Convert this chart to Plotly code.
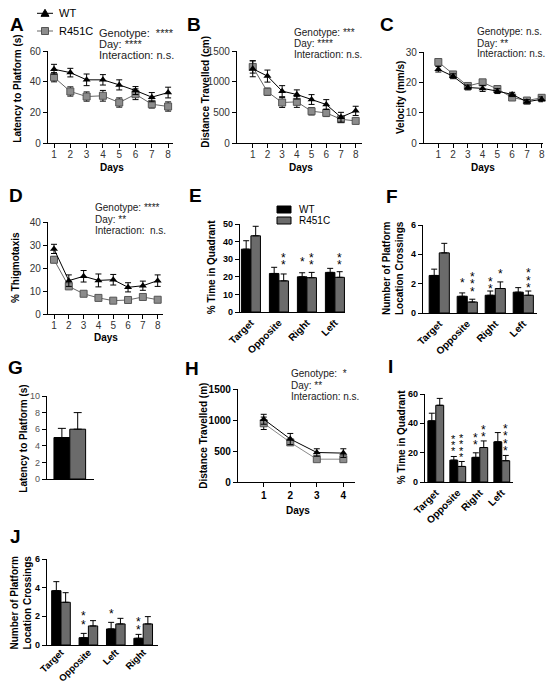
import plotly.graph_objects as go

# The page body has an 8px margin, so the figure is drawn at (8, 8) in the window.
OFF = 8
W, H = 554 - 2 * OFF, 692 - 2 * OFF
FONT = "Liberation Sans, Arial, sans-serif"

def px(x):
    return (x - OFF) / W

def py(y):
    return 1 - (y - OFF) / H

# ---------------- data ----------------
days8 = [1, 2, 3, 4, 5, 6, 7, 8]
days4 = [1, 2, 3, 4]

A_wt = [48.1, 45.9, 41.2, 41.2, 37.9, 34.2, 29.9, 32.9]
A_wt_err = [3.2, 2.8, 3.8, 3.4, 3.3, 2.6, 3.0, 3.5]
A_r = [42.9, 33.6, 30.3, 30.8, 26.4, 31.8, 25.3, 23.8]
A_r_err = [3.0, 3.0, 3.0, 3.5, 3.0, 3.5, 2.5, 3.0]

B_wt = [1210, 1091, 845, 791, 709, 627, 420, 524]
B_wt_err = [130, 98, 90, 75, 80, 80, 80, 75]
B_r = [1240, 835, 660, 671, 518, 491, 387, 360]
B_r_err = [100, 60, 80, 90, 60, 60, 40, 40]

C_wt = [24.3, 22.0, 18.3, 18.0, 17.1, 16.0, 13.6, 14.4]
C_wt_err = [0.9, 0.8, 0.8, 1.0, 0.8, 0.7, 0.7, 0.8]
C_r = [26.7, 22.6, 18.8, 20.0, 17.8, 15.0, 14.0, 14.9]
C_r_err = [0.9, 0.8, 0.7, 0.8, 0.8, 0.7, 0.6, 0.9]

D_wt = [28.3, 14.5, 16.4, 14.6, 14.9, 11.6, 12.3, 14.5]
D_wt_err = [2.0, 2.5, 2.5, 2.8, 2.3, 2.0, 2.0, 2.5]
D_r = [23.6, 12.0, 8.8, 7.0, 5.8, 6.1, 7.4, 6.2]
D_r_err = [1.3, 0.8, 0.7, 0.6, 0.5, 0.8, 0.6, 0.5]

quad_cats = ["Target", "Opposite", "Right", "Left"]
quad_cats_J = ["Target", "Opposite", "Left", "Right"]

E_wt = [35.7, 21.9, 20.0, 22.5]
E_wt_err = [4.8, 3.5, 2.3, 2.3]
E_r = [43.3, 17.7, 19.5, 19.7]
E_r_err = [5.4, 3.9, 3.0, 3.2]

F_wt = [2.56, 1.14, 1.21, 1.42]
F_wt_err = [0.43, 0.23, 0.29, 0.31]
F_r = [4.1, 0.75, 1.67, 1.21]
F_r_err = [0.65, 0.19, 0.45, 0.29]

G_wt = [5.0]
G_wt_err = [1.1]
G_r = [6.0]
G_r_err = [2.0]

H_wt = [1012, 693, 476, 466]
H_wt_err = [80, 90, 60, 70]
H_r = [947, 639, 368, 368]
H_r_err = [100, 40, 30, 40]

I_wt = [41.7, 14.9, 16.8, 27.4]
I_wt_err = [5.2, 2.5, 3.1, 6.3]
I_r = [52.3, 10.6, 23.5, 14.5]
I_r_err = [4.7, 3.4, 4.5, 3.6]

J_wt = [3.79, 0.51, 1.12, 0.47]
J_wt_err = [0.63, 0.30, 0.46, 0.27]
J_r = [2.98, 1.33, 1.47, 1.47]
J_r_err = [0.67, 0.37, 0.39, 0.51]

WT_COL = "black"
R_BAR = "#6b6b6b"
R_MK = "#8c8c8c"

fig = go.Figure()

# ---------------- axes ----------------
panels = {
    "A": (1, 48, 173, 51, 143, [0.63, 8.3], [0, 60], [0, 20, 40, 60]),
    "B": (2, 237, 362, 51, 143, [-0.07, 8.43], [0, 1500], [0, 500, 1000, 1500]),
    "C": (3, 424, 543, 52, 143, [0.03, 8.09], [0, 30], [0, 10, 20, 30]),
    "D": (4, 48, 163, 222, 314, [0.595, 8.36], [0, 40], [0, 10, 20, 30, 40]),
    "E": (5, 240, 345, 224, 312, [-0.39, 3.36], [0, 50], [0, 10, 20, 30, 40, 50]),
    "F": (6, 423, 537, 225, 313, [-0.58, 3.49], [0, 6], [0, 2, 4, 6]),
    "G": (7, 47, 94, 396, 479, [-0.94, 2.03], [0, 10], [0, 2, 4, 6, 8, 10]),
    "H": (8, 238, 355, 389, 482, [0.03, 4.44], [0, 1500], [0, 500, 1000, 1500]),
    "I": (9, 425, 513, 394, 482, [-0.49, 3.51], [0, 60], [0, 20, 40, 60]),
    "J": (10, 47, 158, 559, 645, [-0.51, 3.54], [0, 6], [0, 2, 4, 6]),
}

layout_axes = {}
for name, (i, x0, x1, yt, yb, xr, yr, ytv) in panels.items():
    xk = "xaxis" if i == 1 else f"xaxis{i}"
    yk = "yaxis" if i == 1 else f"yaxis{i}"
    sfx = "" if i == 1 else str(i)
    bold_panel = name in ("E", "F", "I", "J", "H")
    tick_col = "black" if bold_panel else ("#555555" if name == "G" else "#333333")
    tick_font = dict(family=FONT, size=9 if name in ("E", "F", "I", "J", "G") else 10,
                     color=tick_col, weight="bold" if bold_panel else "normal")
    xa = dict(domain=[px(x0), px(x1)], range=xr, anchor="y" + sfx, automargin=False,
              showline=True, linecolor="black", linewidth=1.3,
              showgrid=False, zeroline=False, tickfont=tick_font,
              ticks="outside", ticklen=4, tickwidth=1.2, tickcolor="black")
    if name in ("A", "B", "C", "D"):
        xa.update(tickmode="array", tickvals=days8, ticklabelstandoff=-2)
    elif name == "H":
        xa.update(tickmode="array", tickvals=days4)
    elif name == "G":
        xa.update(showticklabels=False, ticks="")
    else:
        xa.update(type="category", ticks="", tickangle=-45,
                  tickfont=dict(family=FONT, size=9.5 if name == "J" else 10,
                                color="black", weight="bold"))
        if name == "J":
            xa.update(ticklabelstandoff=-3)
    ya = dict(domain=[py(yb), py(yt)], range=yr, anchor="x" + sfx, automargin=False,
              showline=True, linecolor="black", linewidth=1.3,
              showgrid=False, zeroline=False, tickfont=tick_font,
              ticks="outside", ticklen=4, tickwidth=1.2, tickcolor="black",
              tickmode="array", tickvals=ytv)
    layout_axes[xk] = xa
    layout_axes[yk] = ya


def ax(i):
    return ("x", "y") if i == 1 else (f"x{i}", f"y{i}")


# ---------------- line panels ----------------
def line_panel(i, xs, wt, wte, r, rerr, r_line="#666666"):
    xa, ya = ax(i)
    fig.add_trace(go.Scatter(
        x=xs, y=r, mode="lines+markers", xaxis=xa, yaxis=ya, showlegend=False,
        line=dict(color=r_line, width=1),
        marker=dict(symbol="square", size=7, color=R_MK, line=dict(color="#555555", width=1)),
        error_y=dict(type="data", array=rerr, color="black", thickness=1, width=3),
        cliponaxis=False))
    fig.add_trace(go.Scatter(
        x=xs, y=wt, mode="lines+markers", xaxis=xa, yaxis=ya, showlegend=False,
        line=dict(color=WT_COL, width=1),
        marker=dict(symbol="triangle-up", size=7, color=WT_COL),
        error_y=dict(type="data", array=wte, color="black", thickness=1, width=3),
        cliponaxis=False))


line_panel(1, days8, A_wt, A_wt_err, A_r, A_r_err)
line_panel(2, days8, B_wt, B_wt_err, B_r, B_r_err)
line_panel(3, days8, C_wt, C_wt_err, C_r, C_r_err)
line_panel(4, days8, D_wt, D_wt_err, D_r, D_r_err)
line_panel(8, days4, H_wt, H_wt_err, H_r, H_r_err, r_line="#8a8a8a")


# ---------------- bar panels ----------------
def bar_panel(i, cats, wt, wte, r, rerr, w):
    xa, ya = ax(i)
    fig.add_trace(go.Bar(
        x=cats, y=wt, width=w, offset=-w, xaxis=xa, yaxis=ya, showlegend=False,
        marker=dict(color=WT_COL, line=dict(color="black", width=1)),
        error_y=dict(type="data", symmetric=False, array=wte, arrayminus=[0] * len(wt),
                     color="black", thickness=1, width=3)))
    fig.add_trace(go.Bar(
        x=cats, y=r, width=w, offset=0, xaxis=xa, yaxis=ya, showlegend=False,
        marker=dict(color=R_BAR, line=dict(color="black", width=1)),
        error_y=dict(type="data", symmetric=False, array=rerr, arrayminus=[0] * len(r),
                     color="black", thickness=1, width=3)))


bar_panel(5, quad_cats, E_wt, E_wt_err, E_r, E_r_err, 0.34)
bar_panel(6, quad_cats, F_wt, F_wt_err, F_r, F_r_err, 0.36)
bar_panel(9, quad_cats, I_wt, I_wt_err, I_r, I_r_err, 0.36)
bar_panel(10, quad_cats_J, J_wt, J_wt_err, J_r, J_r_err, 0.34)

# G
fig.add_trace(go.Bar(x=[0], y=G_wt, width=1, xaxis="x7", yaxis="y7", showlegend=False,
                     marker=dict(color=WT_COL, line=dict(color="black", width=1)),
                     error_y=dict(type="data", symmetric=False, array=G_wt_err, arrayminus=[0],
                                  color="black", thickness=1, width=4)))
fig.add_trace(go.Bar(x=[1], y=G_r, width=1, xaxis="x7", yaxis="y7", showlegend=False,
                     marker=dict(color=R_BAR, line=dict(color="black", width=1)),
                     error_y=dict(type="data", symmetric=False, array=G_r_err, arrayminus=[0],
                                  color="black", thickness=1, width=4)))

ann = []
shapes = []


def text(x, y, t, size=10, bold=False, anchor="left", angle=0, color="black"):
    ann.append(dict(x=px(x), y=py(y), xref="paper", yref="paper", text=t, showarrow=False,
                    xanchor=anchor, yanchor="middle", textangle=angle,
                    font=dict(family=FONT, size=size, color=color,
                              weight="bold" if bold else "normal")))


# panel letters
for L, (x, y) in {"A": (16.7, 25), "B": (194, 25), "C": (386.7, 25), "D": (16, 195),
                  "E": (195, 195), "F": (391.7, 196.7), "G": (15, 367), "H": (191.7, 368),
                  "I": (390.7, 366.7), "J": (15, 536.7)}.items():
    text(x, y, L, size=19, bold=True, anchor="center")

# stats text
stats = [
    (96.7, [33.3, 44.3, 55.0], ["Genotype:  ****", "Day: ****", "Interaction: n.s."], 11),
    (292.3, [32.7, 43.3, 54.3], ["Genotype: ***", "Day: ****", "Interaction: n.s."], 10),
    (475, [31.7, 43.3, 53.3], ["Genotype: n.s.", "Day: **", "Interaction: n.s."], 10),
    (92.7, [207.7, 219.3, 230.3], ["Genotype: ****", "Day: **", "Interaction:  n.s."], 10),
    (289.3, [373.5, 385, 396], ["Genotype:  *", "Day: **", "Interaction: n.s."], 10),
]
for x, ys, ts, s in stats:
    for y, t in zip(ys, ts):
        text(x, y, t, size=s, color="#222222")

# Days titles
for x, y in [(112, 167), (301, 167), (483, 167), (106, 337), (298, 510)]:
    text(x, y, "Days", size=10, bold=True, anchor="center")

# y-axis titles
ytitles = [
    (16.7, 89, "Latency to Platform (s)"),
    (205.7, 92, "Distance Travelled (cm)"),
    (400, 98, "Velocity (mm/s)"),
    (15, 268, "% Thigmotaxis"),
    (211.7, 267.5, "% Time in Quadrant"),
    (392.5, 268.5, "Number of Platform<br>Location Crossings"),
    (22.7, 439, "Latency to Platform (s)"),
    (203.3, 435.5, "Distance Travelled (m)"),
    (401.7, 437.5, "% Time in Quadrant"),
    (20, 602.5, "Number of Platform<br>Location Crossings"),
]
for x, y, t in ytitles:
    text(x, y, t, size=10, bold=True, anchor="center", angle=-90)


# significance stars: a vertical column of n stars above a bar
def stars(i, xc, ybase, n, spacing=7.0, size=12):
    xa, ya = ax(i)
    for k in range(n):
        ann.append(dict(x=xc, y=ybase, xref=xa, yref=ya, text="*", showarrow=False,
                        xanchor="center", yanchor="middle", yshift=k * spacing - 3,
                        font=dict(family=FONT, size=size, color="black")))


wE, wF, wI, wJ = 0.34, 0.36, 0.36, 0.34
stars(5, 1 + wE / 2, 28.4, 2)
stars(5, 2 - wE / 2, 30.1, 1)
stars(5, 2 + wE / 2, 28.4, 2)
stars(5, 3 + wE / 2, 28.4, 2)

stars(6, 1 - wF / 2, 2.28, 1)
stars(6, 1 + wF / 2, 1.66, 3, 7.5)
stars(6, 2 - wF / 2, 1.84, 2, 7.5)
stars(6, 2 + wF / 2, 2.84, 1)
stars(6, 3 + wF / 2, 1.89, 3, 7.5)

stars(9, 1 - wI / 2, 23.1, 3, 6.2, 11)
stars(9, 1 + wI / 2, 19.0, 4, 6.5, 11)
stars(9, 2 - wI / 2, 27.2, 2)
stars(9, 2 + wI / 2, 32.8, 2)
stars(9, 3 + wI / 2, 23.1, 4, 7.5)

stars(10, 1 - wJ / 2, 1.58, 2, 9)
stars(10, 2 - wJ / 2, 2.37, 1)
stars(10, 3 - wJ / 2, 1.28, 2, 7.4)

# legend A (line + marker keys)
shapes.append(dict(type="line", xref="paper", yref="paper", x0=px(37), x1=px(53),
                   y0=py(13.3), y1=py(13.3), line=dict(color="black", width=1)))
tx, ty = 45, 13.3
shapes.append(dict(type="path", xref="paper", yref="paper",
                   path=f"M {px(tx)} {py(ty - 4)} L {px(tx + 4)} {py(ty + 3)} L {px(tx - 4)} {py(ty + 3)} Z",
                   fillcolor="black", line=dict(color="black", width=1)))
shapes.append(dict(type="line", xref="paper", yref="paper", x0=px(37), x1=px(53),
                   y0=py(31), y1=py(31), line=dict(color="#666666", width=1)))
shapes.append(dict(type="rect", xref="paper", yref="paper", x0=px(41.5), x1=px(48.5),
                   y0=py(34.5), y1=py(27.5), fillcolor=R_MK, line=dict(color="#555555", width=1)))
text(56.7, 13.3, "WT", size=11)
text(56.7, 31, "R451C", size=11)

# legend E (bar keys)
shapes.append(dict(type="rect", xref="paper", yref="paper", x0=px(277), x1=px(291),
                   y0=py(213), y1=py(206), fillcolor="black", line=dict(color="black", width=1)))
shapes.append(dict(type="rect", xref="paper", yref="paper", x0=px(277), x1=px(291),
                   y0=py(224), y1=py(217), fillcolor=R_BAR, line=dict(color="black", width=1)))
text(296.7, 209.5, "WT", size=10)
text(296.7, 220.5, "R451C", size=10)

fig.update_layout(
    width=W, height=H, margin=dict(l=0, r=0, t=0, b=0, autoexpand=False),
    paper_bgcolor="white", plot_bgcolor="white",
    barmode="overlay", showlegend=False,
    font=dict(family=FONT, size=10, color="black"),
    annotations=ann, shapes=shapes,
    **layout_axes,
)

fig.write_html("out.html")
